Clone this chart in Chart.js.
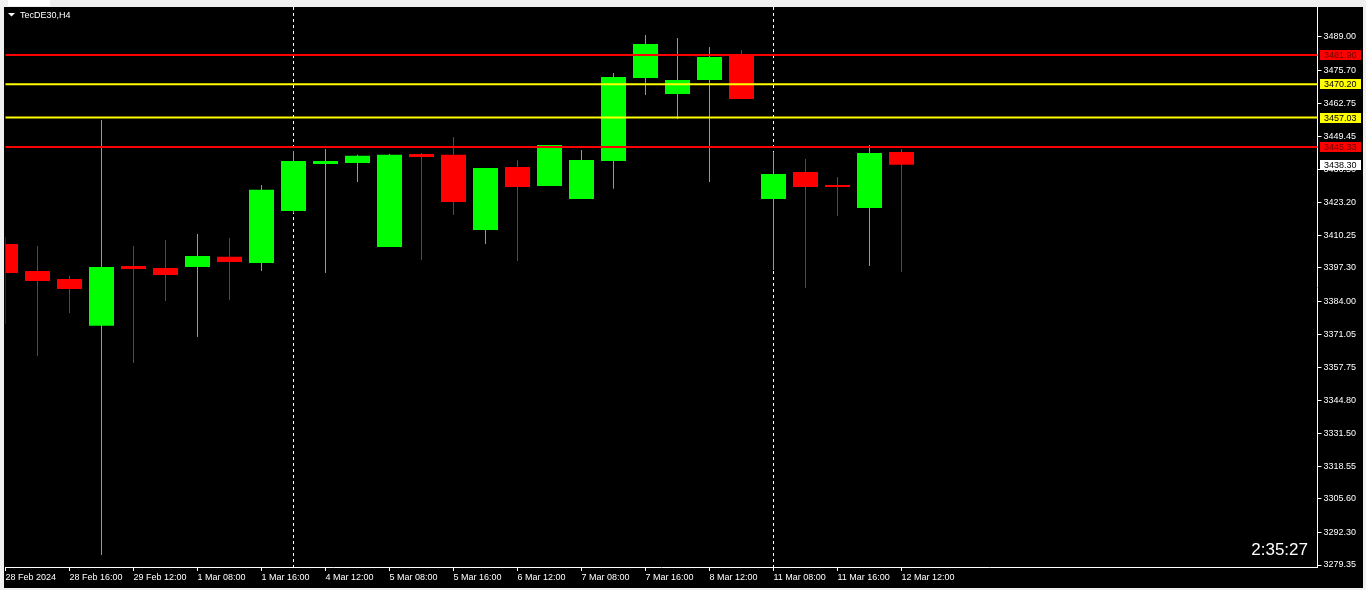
<!DOCTYPE html>
<html>
<head>
<meta charset="utf-8">
<script src="https://cdn.jsdelivr.net/npm/chart.js"></script>
<style>
    html, body { margin: 0; padding: 0; background: #f0f0f0; overflow: hidden; }
    #wrap { position: absolute; left: 4px; top: 7px; width: 1359px; height: 581px; background: #000; }
    #tab { position: absolute; left: 8px; top: 0; width: 42px; height: 6px; background: #fff; }
</style>
</head>
<body>
<div id="tab"></div>
<div id="wrap"><canvas id="price-chart"></canvas></div>
<script>
// H4 candles, TecDE30
const times = [
    '28 Feb 08:00', '28 Feb 12:00', '28 Feb 16:00', '29 Feb 08:00', '29 Feb 12:00', '29 Feb 16:00',
    '1 Mar 08:00', '1 Mar 12:00', '1 Mar 16:00', '4 Mar 08:00', '4 Mar 12:00', '4 Mar 16:00',
    '5 Mar 08:00', '5 Mar 12:00', '5 Mar 16:00', '6 Mar 08:00', '6 Mar 12:00', '6 Mar 16:00',
    '7 Mar 08:00', '7 Mar 12:00', '7 Mar 16:00', '8 Mar 08:00', '8 Mar 12:00', '8 Mar 16:00',
    '11 Mar 08:00', '11 Mar 12:00', '11 Mar 16:00', '12 Mar 08:00', '12 Mar 12:00'
];
const opens  = [3406.8, 3396.1, 3392.9, 3374.3, 3398.1, 3397.3, 3397.7, 3401.7, 3399.3, 3419.9,
                3438.6, 3439.0, 3405.6, 3442.5, 3442.2, 3412.4, 3437.4, 3429.8, 3424.7, 3439.8,
                3472.7, 3466.4, 3471.9, 3481.9, 3424.7, 3435.4, 3430.2, 3421.1, 3443.3];
const highs  = [3409.6, 3406.0, 3394.1, 3456.0, 3406.0, 3408.4, 3410.8, 3409.2, 3430.2, 3443.7,
                3444.5, 3442.2, 3442.5, 3442.9, 3449.3, 3437.0, 3440.2, 3446.1, 3444.1, 3474.7,
                3489.8, 3488.6, 3485.0, 3483.8, 3443.3, 3440.6, 3433.4, 3446.1, 3444.5];
const lows   = [3375.0, 3362.3, 3379.4, 3283.3, 3359.6, 3384.2, 3369.9, 3384.6, 3396.1, 3419.1,
                3395.3, 3431.4, 3405.6, 3400.5, 3418.3, 3406.8, 3400.1, 3429.8, 3424.7, 3428.7,
                3466.0, 3456.4, 3431.4, 3464.4, 3396.5, 3389.3, 3417.9, 3398.1, 3395.7];
const closes = [3395.3, 3392.1, 3388.9, 3397.7, 3396.9, 3394.5, 3402.0, 3399.7, 3428.3, 3439.8,
                3439.8, 3441.8, 3442.2, 3441.4, 3423.5, 3437.0, 3429.4, 3446.1, 3440.2, 3473.1,
                3486.2, 3471.9, 3481.1, 3464.4, 3434.6, 3429.4, 3429.4, 3442.9, 3438.3];

// one label every second candle
const xTickLabels = [
    '28 Feb 2024', '28 Feb 16:00', '29 Feb 12:00', '1 Mar 08:00', '1 Mar 16:00', '4 Mar 12:00',
    '5 Mar 08:00', '5 Mar 16:00', '6 Mar 12:00', '7 Mar 08:00', '7 Mar 16:00', '8 Mar 12:00',
    '11 Mar 08:00', '11 Mar 16:00', '12 Mar 12:00'
];
const yTickValues = [3489.00, 3475.70, 3462.75, 3449.45, 3436.50, 3423.20, 3410.25, 3397.30, 3384.00,
                     3371.05, 3357.75, 3344.80, 3331.50, 3318.55, 3305.60, 3292.30, 3279.35];

const levelValues = [3481.90, 3470.20, 3457.03, 3445.33];
const levelColors = ['#ff0000', '#ffff00', '#ffff00', '#ff0000'];
const levelTextColors = ['#6a0000', '#000000', '#000000', '#6a0000'];
const bidPrice = 3438.30;
const weekStarts = [9, 24];
const shiftSlots = 13;

const chartTitle = 'TecDE30,H4';
const timerText = '2:35:27';

const UP = '#00ff00';
const DOWN = '#ff0000';

document.addEventListener('DOMContentLoaded', function() {
    initializeChart();
});

function initializeChart() {
    const labels = times.concat(new Array(shiftSlots).fill(''));
    const candleColors = opens.map((o, i) => closes[i] >= o ? UP : DOWN);

    Chart.defaults.font.family = '"Liberation Sans", Arial, sans-serif';
    Chart.defaults.font.size = 9;
    Chart.defaults.color = '#ffffff';

    // week separators, drawn behind the candles
    const separators = {
        id: 'separators',
        beforeDatasetsDraw(chart) {
            const ctx = chart.ctx;
            const area = chart.chartArea;
            const x = chart.scales.x;
            ctx.save();
            ctx.strokeStyle = '#ffffff';
            ctx.lineWidth = 1;
            ctx.setLineDash([3, 3]);
            weekStarts.forEach(i => {
                const px = Math.round(x.getPixelForValue(i)) - 0.5;
                ctx.beginPath();
                ctx.moveTo(px, area.top);
                ctx.lineTo(px, area.bottom);
                ctx.stroke();
            });
            ctx.restore();
        }
    };

    // level lines, price boxes, title and bar timer
    const overlays = {
        id: 'overlays',
        afterDraw(chart) {
            const ctx = chart.ctx;
            const area = chart.chartArea;
            const y = chart.scales.y;
            ctx.save();

            ctx.lineWidth = 2;
            levelValues.forEach((v, i) => {
                const py = y.getPixelForValue(v);
                ctx.strokeStyle = levelColors[i];
                ctx.beginPath();
                ctx.moveTo(area.left, py);
                ctx.lineTo(area.right, py);
                ctx.stroke();
            });

            ctx.font = '9px "Liberation Sans", Arial, sans-serif';
            ctx.textBaseline = 'middle';
            ctx.textAlign = 'left';
            const drawBox = (v, bg, fg) => {
                const py = Math.round(y.getPixelForValue(v));
                ctx.fillStyle = bg;
                ctx.fillRect(area.right + 2.5, py - 5, 41, 10);
                ctx.fillStyle = fg;
                ctx.fillText(v.toFixed(2), area.right + 6.5, py + 0.5);
            };
            levelValues.forEach((v, i) => drawBox(v, levelColors[i], levelTextColors[i]));
            drawBox(bidPrice, '#ffffff', '#000000');

            // title
            ctx.fillStyle = '#ffffff';
            ctx.beginPath();
            ctx.moveTo(4, 6);
            ctx.lineTo(11, 6);
            ctx.lineTo(7.5, 9.5);
            ctx.closePath();
            ctx.fill();
            ctx.fillText(chartTitle, 16, 8.5);

            // time left on current bar
            ctx.font = '17px "Liberation Sans", Arial, sans-serif';
            ctx.textAlign = 'right';
            ctx.textBaseline = 'alphabetic';
            ctx.fillText(timerText, 1304, 548);

            ctx.restore();
        }
    };

    new Chart(document.getElementById('price-chart'), {
        type: 'bar',
        data: {
            labels: labels,
            datasets: [{
                label: 'Wicks',
                data: lows.map((l, i) => [l, highs[i]]),
                backgroundColor: candleColors,
                barThickness: 1,
                grouped: false,
                borderWidth: 0,
                inflateAmount: 0
            }, {
                label: 'Bodies',
                data: opens.map((o, i) => [o, closes[i]]),
                backgroundColor: candleColors,
                barThickness: 25,
                grouped: false,
                borderWidth: 0,
                inflateAmount: 0
            }]
        },
        options: {
            responsive: false,
            animation: false,
            events: [],
            layout: {
                padding: { left: 1.5, right: 0, top: 0, bottom: 0 }
            },
            plugins: {
                legend: { display: false },
                tooltip: { enabled: false }
            },
            scales: {
                x: {
                    type: 'category',
                    offset: false,
                    grid: {
                        offset: false,
                        drawOnChartArea: false,
                        tickLength: 4,
                        color: c => (c.index % 2 === 0 && c.index <= 28) ? '#ffffff' : 'rgba(0,0,0,0)'
                    },
                    border: { color: '#ffffff', width: 1 },
                    ticks: {
                        autoSkip: false,
                        maxRotation: 0,
                        minRotation: 0,
                        align: 'start',
                        padding: 1,
                        callback: (value, index) => (index % 2 === 0 && index <= 28) ? xTickLabels[index / 2] : ''
                    },
                    afterFit(scale) {
                        scale.height = 21;
                        scale.paddingLeft = 0;
                        scale.paddingRight = 0;
                    }
                },
                y: {
                    position: 'right',
                    min: 3278.56,
                    max: 3500.91,
                    grid: {
                        drawOnChartArea: false,
                        tickLength: 4,
                        color: '#ffffff'
                    },
                    border: { color: '#ffffff', width: 1 },
                    ticks: {
                        padding: 2,
                        callback: v => Number(v).toFixed(2)
                    },
                    afterBuildTicks(scale) {
                        scale.ticks = yTickValues.map(v => ({ value: v }));
                    },
                    afterFit(scale) {
                        scale.width = 45.5;
                        scale.paddingTop = 0;
                        scale.paddingBottom = 0;
                    }
                }
            }
        },
        plugins: [separators, overlays]
    });
}
</script>
<script>
    // canvas size fixed to the black panel
    (function() {
        const c = document.getElementById('price-chart');
        c.width = 1359;
        c.height = 581;
        c.style.width = '1359px';
        c.style.height = '581px';
    })();
</script>
</body>
</html>
